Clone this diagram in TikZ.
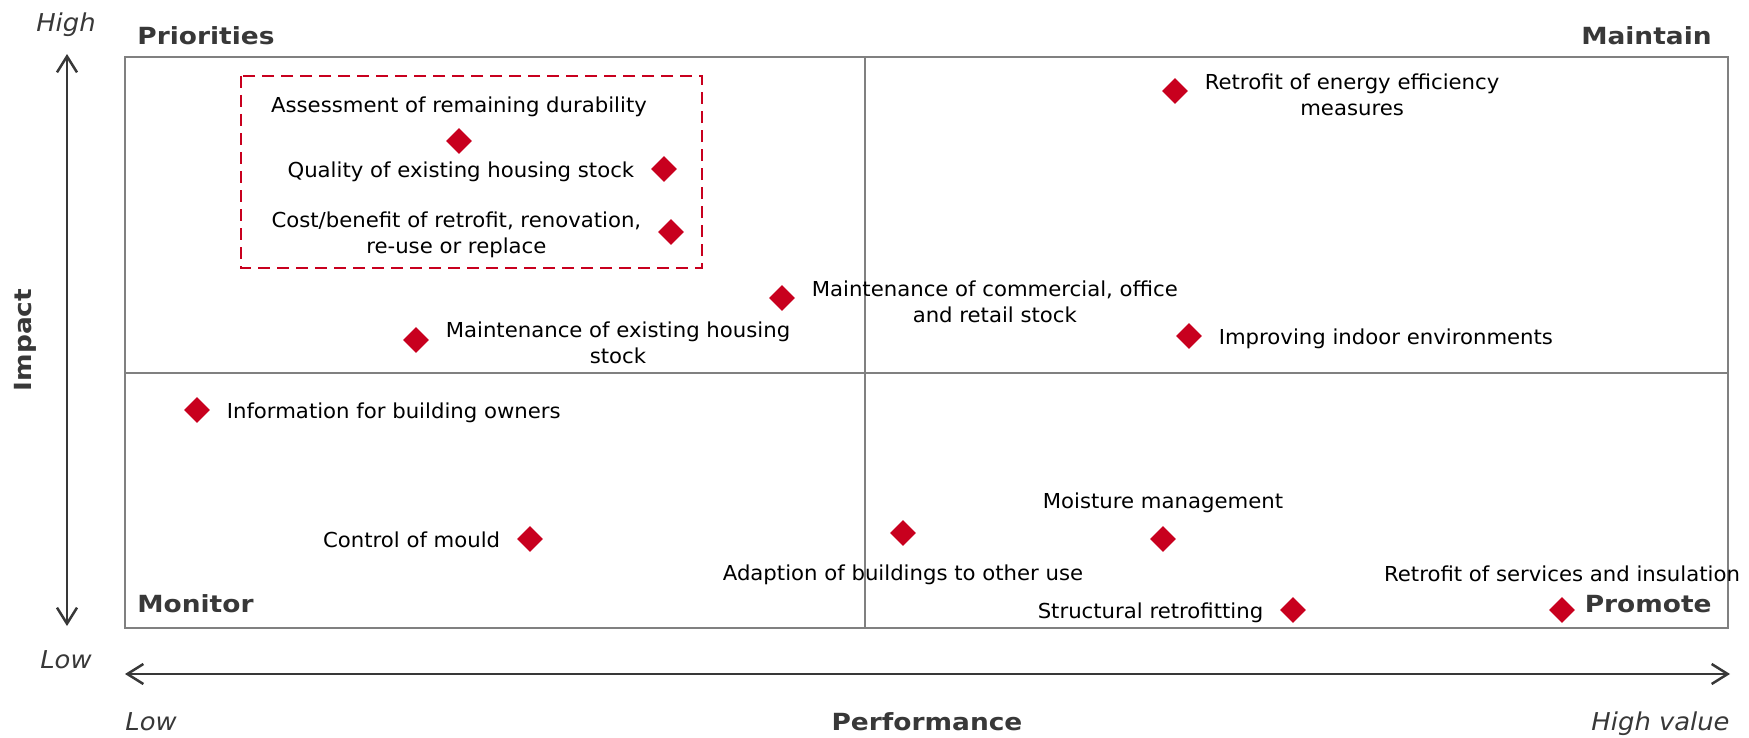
\documentclass[tikz,border=0pt]{standalone}
\usepackage{fontspec}
\setmainfont{DejaVu Sans}[FakeStretch=1.03]
\newfontfamily\headfont{DejaVu Sans}[FakeStretch=1.12]
\newfontfamily\endsfont{DejaVu Sans}[FakeStretch=1.05]
\usetikzlibrary{shapes.geometric, positioning, arrows.meta}
\definecolor{pointred}{RGB}{200,0,30}
\definecolor{framegrey}{RGB}{128,128,128}
\definecolor{axisgrey}{RGB}{56,56,56}

\begin{document}
\begin{tikzpicture}[x=0.5pt, y=-0.5pt, font=\fontsize{10.3}{13}\selectfont,
	dot/.style={diamond, fill=pointred, inner sep=0pt, minimum size=13pt},
	lbl/.style={align=center, inner sep=0pt},
	corner/.style={inner sep=0pt, text=axisgrey, font=\fontsize{11.8}{14}\headfont\bfseries},
	ends/.style={inner sep=0pt, text=axisgrey, font=\fontsize{12.3}{14}\endsfont\itshape},
	>={Straight Barb[length=8pt, width=10pt]}]

	\useasboundingbox (0,0) rectangle (1749,738);

	% Draw the quadrants
	\draw[framegrey, line width=1pt] (125,57) rectangle (1728,628);
	\draw[framegrey, line width=1pt] (865,57) -- (865,628);
	\draw[framegrey, line width=1pt] (125,373) -- (1728,373);

	% Dashed group round the first three points
	\draw[pointred, line width=1pt, dash pattern=on 6pt off 3.5pt] (241,76) rectangle (702,268);

	% Draw the axes
	\coordinate (ytop) at (67,54);
	\coordinate (ybot) at (67,626);
	\coordinate (xleft) at (125,674);
	\coordinate (xright) at (1730,674);
	\draw[axisgrey, line width=1.25pt, <->] (ybot) -- (ytop);
	\draw[axisgrey, line width=1.25pt, <->] (xleft) -- (xright);

	\node[ends, anchor=base] (yhigh) at (66,32) {High};
	\node[ends, anchor=base] (ylow) at (66,668) {Low};
	\node[ends, anchor=base west] (xlow) at (125,730) {Low};
	\node[ends, anchor=base east] (xhigh) at (1730,730) {High value};
	\node[corner, anchor=base] (xname) at (927,730) {Performance};
	\node[corner, rotate=90] (yname) at (25,340) {Impact};

	% Quadrant names
	\node[corner, anchor=base west] (prio) at (137,45) {Priorities};
	\node[corner, anchor=base east] (maint) at (1712,45) {Maintain};
	\node[corner, anchor=base west] (monit) at (137,612) {Monitor};
	\node[corner, anchor=base east] (promo) at (1712,612) {Promote};

	% Points and their labels
	\node[dot] (assess) at (459,141) {};
	\node[lbl, above=5.5pt of assess, yshift=-0.5pt] (assess text) {Assessment of remaining durability};

	\node[dot] (quality) at (664,169) {};
	\node[lbl, left=8pt of quality, yshift=-1.5pt] (quality text) {Quality of existing housing stock};

	\node[dot] (cost) at (671,232) {};
	\node[lbl, left=8pt of cost, yshift=-1.5pt] (cost text) {Cost/benefit of retrofit, renovation,\\re-use or replace};

	\node[dot] (commercial) at (782,298) {};
	\node[lbl, right=8pt of commercial, yshift=-2pt] (commercial text) {Maintenance of commercial, office\\and retail stock};

	\node[dot] (housing) at (416,340) {};
	\node[lbl, right=8pt of housing, yshift=-1.5pt] (housing text) {Maintenance of existing housing\\stock};

	\node[dot] (energy) at (1175,91) {};
	\node[lbl, right=8pt of energy, yshift=-2pt] (energy text) {Retrofit of energy efficiency\\measures};

	\node[dot] (indoor) at (1189,336) {};
	\node[lbl, right=8pt of indoor, yshift=-1.5pt] (indoor text) {Improving indoor environments};

	\node[dot] (info) at (197,410) {};
	\node[lbl, right=8pt of info, yshift=-1.5pt] (info text) {Information for building owners};

	\node[dot] (mould) at (530,539) {};
	\node[lbl, left=8pt of mould, yshift=-0.5pt] (mould text) {Control of mould};

	\node[dot] (adapt) at (903,533) {};
	\node[lbl, below=9pt of adapt] (adapt text) {Adaption of buildings to other use};

	\node[dot] (moisture) at (1163,539) {};
	\node[lbl, above=6pt of moisture] (moisture text) {Moisture management};

	\node[dot] (structural) at (1293,610) {};
	\node[lbl, left=8pt of structural, yshift=-1.5pt] (structural text) {Structural retrofitting};

	\node[dot] (services) at (1562,610) {};
	\node[lbl, above=7pt of services] (services text) {Retrofit of services and insulation};

\end{tikzpicture}
\end{document}
